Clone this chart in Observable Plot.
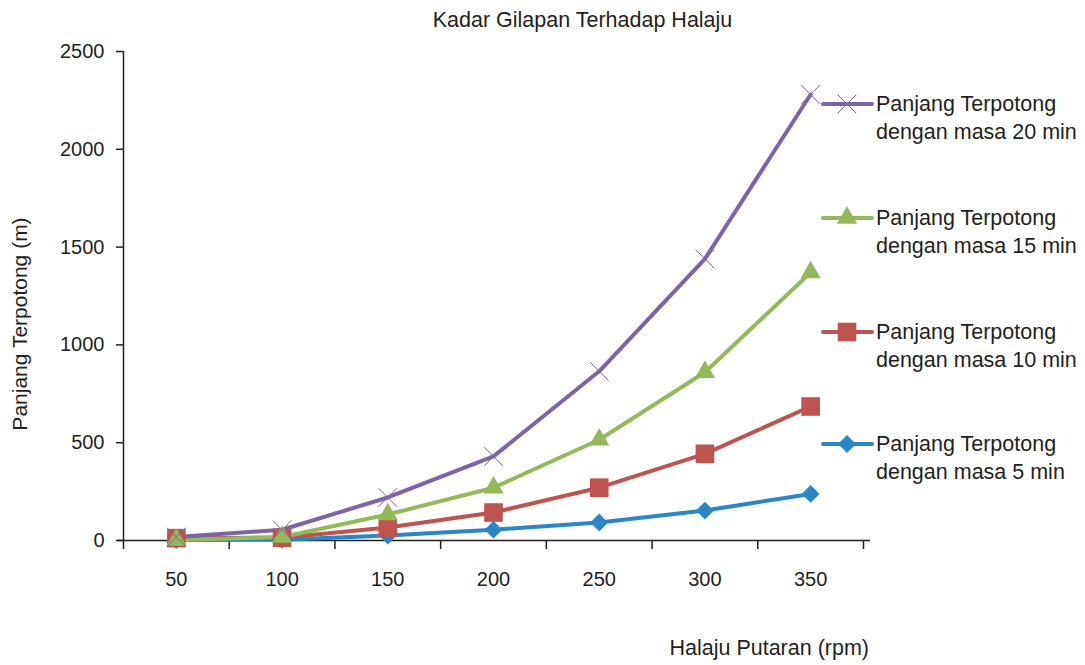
<!DOCTYPE html>
<html>
<head>
<meta charset="utf-8">
<script src="https://cdn.jsdelivr.net/npm/d3@7"></script>
<script src="https://cdn.jsdelivr.net/npm/@observablehq/plot@0.6"></script>
<style>
  html, body { margin: 0; padding: 0; background: #fff; }
  #wrap { position: relative; width: 1085px; height: 665px; font-family: "Liberation Sans", Arial, sans-serif; color: #231f20; }
  #title { position: absolute; left: 0; width: 1165px; top: 8px; text-align: center; font-size: 21.5px; }
  #xlab { position: absolute; right: 216px; top: 636px; font-size: 21.5px; white-space: nowrap; }
  #ylab { position: absolute; left: 20px; top: 324px; font-size: 21px; white-space: nowrap; transform: translate(-50%, -50%) rotate(-90deg); }
  .leg { position: absolute; left: 820px; font-size: 21.5px; line-height: 28px; }
  .leg svg { position: absolute; left: 0; top: 0; }
  .leg div { margin-left: 56px; white-space: nowrap; }
</style>
</head>
<body>
<div id="wrap">
  <div id="title"></div>
  <div id="chart"></div>
  <div id="xlab"></div>
  <div id="ylab"></div>
</div>
<script>
const title = "Kadar Gilapan Terhadap Halaju";
const xLabel = "Halaju Putaran (rpm)";
const yLabel = "Panjang Terpotong (m)";
const rpm = [50, 100, 150, 200, 250, 300, 350];
const xBounds = [25, 75, 125, 175, 225, 275, 325, 375];
const yTicks = [0, 500, 1000, 1500, 2000, 2500];
const seriesNames = [
  "Panjang Terpotong dengan masa 5 min",
  "Panjang Terpotong dengan masa 10 min",
  "Panjang Terpotong dengan masa 15 min",
  "Panjang Terpotong dengan masa 20 min"
];
const min5  = [2, 4, 25, 55, 92, 153, 238];
const min10 = [12, 14, 66, 143, 270, 443, 685];
const min15 = [3, 18, 133, 270, 515, 860, 1370];
const min20 = [18, 55, 220, 430, 865, 1440, 2280];
const colors = ["#2A86C6", "#BD5450", "#94B95A", "#7B65A8"];
const symbols = ["diamond2", "square", "triangle", "times"];
const radii = [8, 10.5, 7.5, 8.5];

const values = [min5, min10, min15, min20];
const data = [];
values.forEach((arr, s) => arr.forEach((v, i) => data.push({series: seriesNames[s], s, rpm: rpm[i], v})));

document.getElementById("title").textContent = title;
document.getElementById("xlab").textContent = xLabel;
document.getElementById("ylab").textContent = yLabel;

const marks = [
  Plot.ruleY([0], {stroke: "#231f20", strokeWidth: 1.5, insetLeft: -6, insetRight: -7}),
  Plot.ruleX([25], {stroke: "#231f20", strokeWidth: 1.5}),
  Plot.axisX({ticks: xBounds, tickFormat: () => "", tickSize: 9, stroke: "#231f20", strokeWidth: 1.5, label: null}),
  Plot.axisX({ticks: rpm, tickSize: 0, tickPadding: 31, fontSize: 20, fill: "#231f20", label: null}),
  Plot.axisY({ticks: yTicks, tickFormat: d3.format("d"), tickSize: 7, tickPadding: 12, fontSize: 20, fill: "#231f20", stroke: "#231f20", strokeWidth: 1.5, label: null})
];
[0, 1, 2, 3].forEach(s => {
  const d = data.filter(r => r.s === s);
  marks.push(Plot.line(d, {x: "rpm", y: "v", stroke: colors[s], strokeWidth: 4}));
});
[0, 1, 2].forEach(s => {
  const d = data.filter(r => r.s === s);
  marks.push(Plot.dot(d, {x: "rpm", y: "v", symbol: () => symbols[s], r: radii[s], fill: colors[s], stroke: "none"}));
});
marks.push(Plot.dot(data.filter(r => r.s === 3), {x: "rpm", y: "v", symbol: "times", r: radii[3], stroke: colors[3], strokeWidth: 1}));

const chart = Plot.plot({
  width: 1085,
  height: 665,
  marginLeft: 123,
  marginRight: 222,
  marginTop: 51,
  marginBottom: 125,
  style: {fontFamily: "Liberation Sans, Arial, sans-serif", fontSize: "20px", color: "#231f20", background: "transparent"},
  x: {type: "linear", domain: [25, 375]},
  y: {domain: [0, 2500]},
  marks
});
document.getElementById("chart").appendChild(chart);

// legend (top to bottom: 20, 15, 10, 5 min)
const legendOrder = [3, 2, 1, 0];
const legendTops = [90, 204, 318, 430];
const wrap = document.getElementById("wrap");
legendOrder.forEach((s, k) => {
  const div = document.createElement("div");
  div.className = "leg";
  div.style.top = legendTops[k] + "px";
  const svg = d3.create("svg").attr("width", 56).attr("height", 28);
  svg.append("line").attr("x1", 3).attr("x2", 52).attr("y1", 14).attr("y2", 14)
    .attr("stroke", colors[s]).attr("stroke-width", 4).attr("stroke-linecap", "round");
  const symMap = {diamond2: d3.symbolDiamond2, square: d3.symbolSquare, triangle: d3.symbolTriangle, times: d3.symbolTimes};
  const size = radii[s] * radii[s] * Math.PI;
  const p = svg.append("path").attr("transform", "translate(27,14)")
    .attr("d", d3.symbol(symMap[symbols[s]], size)());
  if (symbols[s] === "times") p.attr("fill", "none").attr("stroke", colors[s]).attr("stroke-width", 1);
  else p.attr("fill", colors[s]);
  div.appendChild(svg.node());
  const [a, b] = seriesNames[s].split(" dengan ");
  const l1 = document.createElement("div"); l1.textContent = a;
  const l2 = document.createElement("div"); l2.textContent = "dengan " + b;
  div.appendChild(l1); div.appendChild(l2);
  wrap.appendChild(div);
});
</script>
</body>
</html>
